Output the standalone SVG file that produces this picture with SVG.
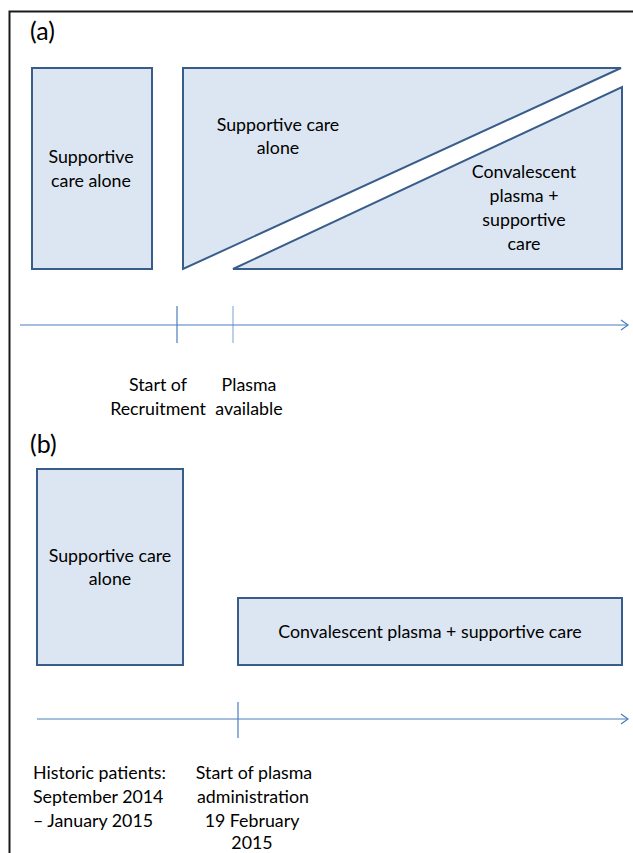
<svg xmlns="http://www.w3.org/2000/svg" width="633" height="853" viewBox="0 0 633 853">
<style>
.box{fill:#dce6f2;stroke:#385d8a;stroke-width:2}
.t{font-family:Lato,"Open Sans","Liberation Sans",sans-serif;font-size:17.8px;fill:#000}
.c{text-anchor:middle}
.h{font-size:25px}
.ax{stroke:#4a7ebb;stroke-width:1.2;fill:none}
</style>
<defs>
<marker id="arr" markerWidth="12" markerHeight="12" refX="10" refY="6" orient="auto" markerUnits="userSpaceOnUse">
<path d="M3,1 L10,6 L3,11" fill="none" stroke="#4a7ebb" stroke-width="1.2"/>
</marker>
</defs>
<rect width="633" height="853" fill="#fff"/>
<path d="M9.5,853 V11.5 H633" fill="none" stroke="#1a1a1a" stroke-width="2"/>
<text class="t h" x="30" y="40">(a)</text>
<text class="t h" x="30" y="453">(b)</text>
<g id="a-supportive">
<rect class="box" x="32" y="68" width="120" height="201"/>
<text class="t c" x="91" y="163">Supportive</text>
<text class="t c" x="91" y="187">care alone</text>
</g>
<g id="a-upper">
<polygon class="box" points="183,68 621,68 183,269"/>
<text class="t c" x="278" y="131">Supportive care</text>
<text class="t c" x="278" y="154">alone</text>
</g>
<g id="a-lower">
<polygon class="box" points="622,87 622,269 233,269"/>
<text class="t c" x="524" y="178">Convalescent</text>
<text class="t c" x="524" y="202">plasma +</text>
<text class="t c" x="524" y="226">supportive</text>
<text class="t c" x="524" y="250">care</text>
</g>
<g id="connectors">
<line class="ax" x1="20" y1="325" x2="628" y2="325" marker-end="url(#arr)"/>
<line class="ax" x1="177" y1="306" x2="177" y2="343"/>
<line class="ax" x1="233" y1="306" x2="233" y2="343" stroke-opacity="0.6" stroke-width="1.8"/>
<line class="ax" x1="37" y1="719" x2="628" y2="719" marker-end="url(#arr)"/>
<line class="ax" x1="238" y1="702" x2="238" y2="738"/>
</g>
<g id="a-labels">
<text class="t c" x="158" y="391">Start of</text>
<text class="t c" x="158" y="415">Recruitment</text>
<text class="t c" x="249" y="391">Plasma</text>
<text class="t c" x="249" y="415">available</text>
</g>
<g id="b-supportive">
<rect class="box" x="37" y="469" width="146" height="196"/>
<text class="t c" x="110" y="562">Supportive care</text>
<text class="t c" x="110" y="585">alone</text>
</g>
<g id="b-convalescent">
<rect class="box" x="238" y="598" width="384" height="67"/>
<text class="t c" x="430" y="638">Convalescent plasma + supportive care</text>
</g>
<g id="b-labels">
<text class="t" x="33" y="779">Historic patients:</text>
<text class="t" x="33" y="803">September 2014</text>
<text class="t" x="33" y="827">– January 2015</text>
<text class="t c" x="254" y="779">Start of plasma</text>
<text class="t c" x="253" y="803">administration</text>
<text class="t c" x="252" y="827">19 February</text>
<text class="t c" x="252" y="849">2015</text>
</g>
</svg>
